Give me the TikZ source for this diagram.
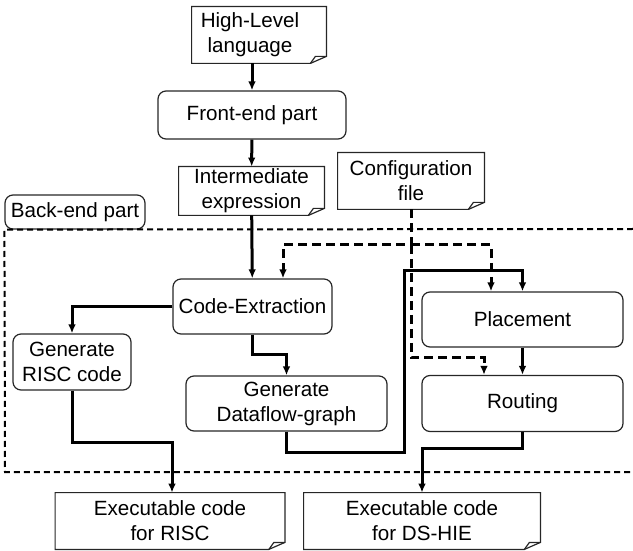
\documentclass[tikz,border=0pt]{standalone}
\usepackage{fontspec}
\setmainfont{Liberation Sans}
\usepackage{tikz}
\usetikzlibrary{positioning, arrows.meta}

\newcommand{\docframe}[1]{%
  \draw[boxline] (#1.north west) -- (#1.north east) -- ([yshift=3.5pt]#1.south east)
    -- ([xshift=-8pt]#1.south east) -- (#1.south west) -- cycle;
  \draw[boxline] ([xshift=-8pt]#1.south east) -- ([xshift=-5.5pt,yshift=3.5pt]#1.south east)
    -- ([yshift=3.5pt]#1.south east);
}

\begin{document}
\begin{tikzpicture}[x=0.5pt, y=-0.5pt, font=\fontsize{10.3}{12.5}\selectfont,
  boxline/.style={draw=black!85, line width=0.6pt},
  proc/.style={boxline, rounded corners=4pt, align=center, inner sep=0pt},
  doc/.style={align=center, inner sep=0pt},
  flow/.style={line width=1.5pt, -{Latex[length=4.5pt,width=3.8pt]}},
  cfgflow/.style={flow, dash pattern=on 4.5pt off 2.5pt},
  backend/.style={line width=1pt, dash pattern=on 3pt off 2pt}]
\useasboundingbox (0,0) rectangle (633,551);

\node[doc, minimum width=67pt, minimum height=28pt] (hl) at (259,35)
  {\begin{tabular}{@{}c@{\hspace{9pt}}}High-Level\\language\end{tabular}};
\node[proc, minimum width=94pt, minimum height=24pt] (fe) at (252,115) {Front-end part};
\node[doc, minimum width=72.5pt, minimum height=24pt] (ie) at (251.5,191) {Intermediate\\expression};
\node[doc, minimum width=73pt, minimum height=28pt] (cfg) at (411,181) {Configuration\\file};
\node[proc, minimum width=70pt, minimum height=17pt] (bel) at (75,212) {Back-end part};

\node[proc, minimum width=79.5pt, minimum height=27.5pt] (ce) at (252.5,306.5) {Code-Extraction};
\node[proc, minimum width=59pt, minimum height=28pt] (risc) at (72,362) {Generate\\RISC code};
\node[proc, minimum width=100.5pt, minimum height=27.5pt] (df) at (286.5,403.5) {Generate\\Dataflow-graph};
\node[proc, minimum width=100.5pt, minimum height=27.5pt] (pl) at (522.5,319.5) {Placement};
\node[proc, minimum width=100.5pt, minimum height=28pt] (ro) at (522.5,403.5) {Routing};

\node[doc, minimum width=114.5pt, minimum height=28pt] (exr) at (170,521) {Executable code\\for RISC};
\node[doc, minimum width=118pt, minimum height=28pt] (exd) at (422,521) {Executable code\\for DS-HIE};

\docframe{hl}
\docframe{ie}
\docframe{cfg}
\docframe{exr}
\docframe{exd}

\draw[backend] (633,229) -- (bel.south west) -- (5,472) -- (633,472);

\coordinate (cfgsplit) at (411,245);
\coordinate (dfturn) at (404,271);

\draw[flow] (fe.north |- hl.south) -- (fe);
\draw[flow] (fe) -- (ie);
\draw[flow] (ie) -- (ce);

\draw[cfgflow] (cfg.south) -- (cfgsplit) -| ([xshift=15.25pt]ce.north);
\draw[cfgflow] (cfgsplit) -| ([xshift=-15.75pt]pl.north);
\draw[cfgflow] (cfgsplit) -- ++(0,113) -| ([xshift=-19.25pt]ro.north);

\draw[flow] (ce.west) -| (risc.north);
\draw[flow] (ce.south) -- ++(0,20) -| (df.north);
\draw[flow] (df.south) -- ++(0,21) -| (dfturn) -| (pl.north);
\draw[flow] (pl) -- (ro);
\draw[flow] (risc.south) -- ++(0,52) -| ([xshift=1pt]exr.north);
\draw[flow] (ro.south) -- ++(0,16) -| (exd.north);
\end{tikzpicture}
\end{document}
